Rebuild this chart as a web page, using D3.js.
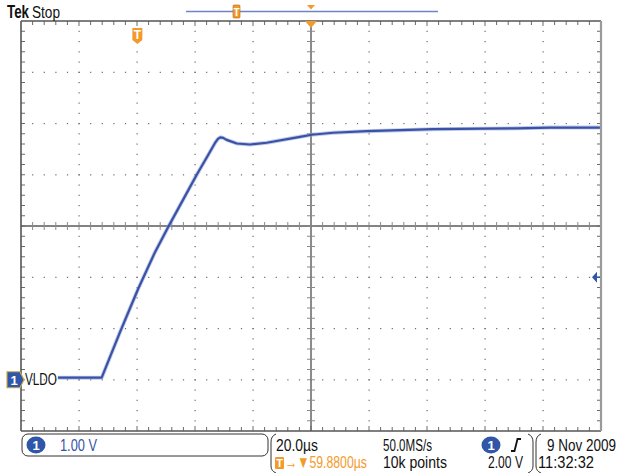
<!DOCTYPE html>
<html>
<head>
<meta charset="utf-8">
<script src="https://cdn.jsdelivr.net/npm/d3@7"></script>
<style>
  html, body { margin: 0; padding: 0; background: #fff; }
  svg { display: block; }
  text { font-family: "Liberation Sans", Arial, sans-serif; }
</style>
</head>
<body>
<svg id="scope" width="619" height="473"></svg>
<script>
// Channel 1 (VLDO) acquisition: time in microseconds relative to the trigger, level in volts
const timeUs = [-27.4, -12.3, -5.98, 0.33, 6.09, 10.91, 15.84, 20.47, 24.47, 26.78, 27.8, 28.6, 29.6, 30.8,
                34.3, 38.8, 44.6, 56.1, 60.1, 67.5, 79.1, 90.6, 101.9, 119.2, 130.8, 142.3, 159.5];
const volts  = [0.04, 0.04, 0.93, 1.78, 2.49, 3.01, 3.52, 4.00, 4.39, 4.62, 4.70, 4.73, 4.72, 4.68,
                4.61, 4.59, 4.625, 4.74, 4.78, 4.82, 4.85, 4.87, 4.89, 4.90, 4.905, 4.92, 4.92];

// Horizontal / vertical settings
const timePerDiv = 20;        // µs/div
const triggerDelay = 59.88;   // µs from trigger to screen centre
const voltsPerDiv = 1.00;     // V/div
const groundDivsBelowCentre = 3;
const triggerLevel = 2.00;    // V
const hDivs = 10, vDivs = 8;

// Readout text
const readoutScale = "1.00 V";
const readoutTime = "20.0µs";
const readoutDelay = "→▼59.8800µs";
const readoutRate = "50.0MS/s";
const readoutPoints = "10k points";
const readoutTrig = "2.00 V";
const readoutDate = "9 Nov 2009";
const readoutClock = "11:32:32";

const svg = d3.select("#scope");
const L = 21, R = 601, T = 21, B = 431;

const tLeft = triggerDelay - timePerDiv * hDivs / 2;
const x = d3.scaleLinear().domain([tLeft, tLeft + timePerDiv * hDivs]).range([L, R]);
const y = d3.scaleLinear()
  .domain([-(vDivs / 2 - groundDivsBelowCentre) * voltsPerDiv, (vDivs / 2 + groundDivsBelowCentre) * voltsPerDiv])
  .range([B, T]);

const orange = "#f39a2c";
const traceBlue = "#3a52a6";
const badgeBlue = "#2f56a8";

// narrow instrument-style text: squeezed horizontally to a fixed run length
function txt(parent, px, py, s, width, opts = {}) {
  const t = parent.append("text").attr("x", 0).attr("y", 0)
    .attr("font-size", opts.size || 17)
    .attr("fill", opts.fill || "#111")
    .text(s);
  if (opts.weight) t.attr("font-weight", opts.weight);
  const natural = t.node().getComputedTextLength();
  t.attr("transform", `translate(${px},${py}) scale(${width / natural},1)`);
  return t;
}

// ---- graticule ----
const g = svg.append("g");
const divW = (R - L) / hDivs, divH = (B - T) / vDivs;
const xCentre = L + divW * hDivs / 2, yCentre = T + divH * vDivs / 2;

// dotted grid lines (dots every 1/5 division)
for (let i = 1; i < hDivs; i++) {
  if (i === hDivs / 2) continue;
  const gx = L + i * divW;
  for (let k = 1; k < vDivs * 5; k++) {
    g.append("rect").attr("x", gx - 0.5).attr("y", T + k * divH / 5 - 0.5)
      .attr("width", 1.2).attr("height", 1.2).attr("fill", "#6a6a6a");
  }
}
for (let j = 1; j < vDivs; j++) {
  if (j === vDivs / 2) continue;
  const gy = T + j * divH;
  for (let k = 1; k < hDivs * 5; k++) {
    g.append("rect").attr("x", L + k * divW / 5 - 0.5).attr("y", gy - 0.5)
      .attr("width", 1.2).attr("height", 1.2).attr("fill", "#6a6a6a");
  }
}

// centre cross with minor ticks, border ticks
g.append("line").attr("x1", L).attr("x2", R).attr("y1", yCentre).attr("y2", yCentre)
  .attr("stroke", "#5a5a5a").attr("stroke-width", 1.4);
g.append("line").attr("x1", xCentre).attr("x2", xCentre).attr("y1", T).attr("y2", B)
  .attr("stroke", "#5a5a5a").attr("stroke-width", 1.4);
for (let k = 1; k < hDivs * 5; k++) {
  const tx = L + k * divW / 5;
  g.append("line").attr("x1", tx).attr("x2", tx).attr("y1", yCentre - 4).attr("y2", yCentre + 4)
    .attr("stroke", "#8a8a8a").attr("stroke-width", 1);
  g.append("line").attr("x1", tx).attr("x2", tx).attr("y1", T).attr("y2", T + (k % 5 === 0 ? 5 : 4))
    .attr("stroke", "#6a6a6a").attr("stroke-width", 1);
  g.append("line").attr("x1", tx).attr("x2", tx).attr("y1", B).attr("y2", B - (k % 5 === 0 ? 5 : 4))
    .attr("stroke", "#6a6a6a").attr("stroke-width", 1);
}
for (let k = 1; k < vDivs * 5; k++) {
  const ty = T + k * divH / 5;
  g.append("line").attr("x1", xCentre - 4).attr("x2", xCentre + 4).attr("y1", ty).attr("y2", ty)
    .attr("stroke", "#8a8a8a").attr("stroke-width", 1);
  g.append("line").attr("x1", L).attr("x2", L + 4).attr("y1", ty).attr("y2", ty)
    .attr("stroke", "#6a6a6a").attr("stroke-width", 1);
  g.append("line").attr("x1", R).attr("x2", R - 4).attr("y1", ty).attr("y2", ty)
    .attr("stroke", "#6a6a6a").attr("stroke-width", 1);
}

// border
g.append("line").attr("x1", L).attr("x2", R).attr("y1", T).attr("y2", T).attr("stroke", "#555").attr("stroke-width", 1.6);
g.append("line").attr("x1", L).attr("x2", R).attr("y1", B).attr("y2", B).attr("stroke", "#555").attr("stroke-width", 1.6);
g.append("line").attr("x1", L).attr("x2", L).attr("y1", T).attr("y2", B).attr("stroke", "#555").attr("stroke-width", 1.6);
g.append("line").attr("x1", R).attr("x2", R).attr("y1", T).attr("y2", B).attr("stroke", "#9a9a9a").attr("stroke-width", 2.2);

// ---- waveform ----
const pts = timeUs.map((t, i) => [t, volts[i]]);
const line = d3.line().x(d => x(d[0])).y(d => y(d[1])).curve(d3.curveLinear);
svg.append("path").attr("d", line(pts)).attr("fill", "none")
  .attr("stroke", "#8d9fd6").attr("stroke-width", 4).attr("stroke-linejoin", "round").attr("opacity", 0.55);
svg.append("path").attr("d", line(pts)).attr("fill", "none")
  .attr("stroke", traceBlue).attr("stroke-width", 2.2).attr("stroke-linejoin", "round");

// ---- channel marker and label ----
const gy0 = y(0);
svg.append("path")
  .attr("d", `M7,${gy0 - 8} L20,${gy0 - 8} L24,${gy0} L20,${gy0 + 8} L7,${gy0 + 8} Z`)
  .attr("fill", badgeBlue).attr("stroke", "#c9a94a").attr("stroke-width", 1.2);
svg.append("text").attr("x", 14).attr("y", gy0 + 5).attr("text-anchor", "middle")
  .attr("fill", "#fff").attr("font-size", 13).attr("font-weight", "bold").text("1");
txt(svg, 25, gy0 + 5.5, "VLDO", 32, { size: 17 });

// trigger level arrow on the right edge
const ty = y(triggerLevel);
svg.append("path").attr("d", `M${R - 9},${ty} L${R - 4},${ty - 5.5} L${R - 4},${ty + 5.5} Z`).attr("fill", badgeBlue);
svg.append("line").attr("x1", R - 5).attr("x2", R - 1).attr("y1", ty).attr("y2", ty)
  .attr("stroke", badgeBlue).attr("stroke-width", 1.5);

// trigger position marker
const tx0 = x(0);
svg.append("path")
  .attr("d", `M${tx0 - 5},28 L${tx0 + 5},28 L${tx0 + 5},40 L${tx0},44 L${tx0 - 5},40 Z`)
  .attr("fill", orange);
svg.append("text").attr("x", tx0).attr("y", 39).attr("text-anchor", "middle").attr("fill", "#fff")
  .attr("font-size", 12).attr("font-weight", "bold").text("T");

// expansion point marker at top centre
svg.append("path").attr("d", `M${xCentre - 6},${T} L${xCentre + 6},${T} L${xCentre},${T + 7} Z`).attr("fill", orange);

// ---- top header ----
txt(svg, 7, 18, "Tek", 22, { size: 18, weight: "bold" });
txt(svg, 32, 18, "Stop", 28, { size: 17 });

// record view bar
svg.append("line").attr("x1", 186).attr("x2", 438).attr("y1", 11.5).attr("y2", 11.5)
  .attr("stroke", "#6f84c8").attr("stroke-width", 1.6);
svg.append("rect").attr("x", 233).attr("y", 5).attr("width", 7).attr("height", 13).attr("rx", 1)
  .attr("fill", orange).attr("stroke", "#b06a10").attr("stroke-width", 0.6);
svg.append("text").attr("x", 236.5).attr("y", 16).attr("text-anchor", "middle").attr("fill", "#fff")
  .attr("font-size", 10).attr("font-weight", "bold").text("T");
svg.append("path").attr("d", `M${xCentre - 4},5 L${xCentre + 4},5 L${xCentre},9.5 Z`).attr("fill", orange);

// ---- readout ----
const ro = svg.append("g");
ro.append("rect").attr("x", 22).attr("y", 434).attr("width", 246).attr("height", 22).attr("rx", 6)
  .attr("fill", "none").attr("stroke", "#333").attr("stroke-width", 1);
ro.append("ellipse").attr("cx", 36).attr("cy", 445).attr("rx", 9.5).attr("ry", 8.5).attr("fill", badgeBlue);
ro.append("text").attr("x", 36).attr("y", 450).attr("text-anchor", "middle").attr("fill", "#fff")
  .attr("font-weight", "bold").attr("font-size", 13).text("1");
txt(ro, 60, 451, readoutScale, 37, { fill: "#3553a3" });

// bracket pieces
function bracket(xp, dir) {
  ro.append("path")
    .attr("d", `M${xp + 5 * dir},434 Q${xp},436 ${xp},442 L${xp},466 Q${xp},471 ${xp + 5 * dir},473`)
    .attr("fill", "none").attr("stroke", "#333").attr("stroke-width", 1);
}
bracket(271, 1);
bracket(533, -1);
bracket(536, 1);

txt(ro, 276, 451, readoutTime, 42);
ro.append("rect").attr("x", 275).attr("y", 457).attr("width", 9).attr("height", 12).attr("rx", 1).attr("fill", orange);
ro.append("text").attr("x", 279.5).attr("y", 467).attr("text-anchor", "middle").attr("fill", "#fff")
  .attr("font-size", 11).attr("font-weight", "bold").text("T");
txt(ro, 285, 468, readoutDelay, 82, { fill: orange });

txt(ro, 383, 451, readoutRate, 49);
txt(ro, 383, 468, readoutPoints, 64);

ro.append("ellipse").attr("cx", 491).attr("cy", 445).attr("rx", 9.5).attr("ry", 8.5).attr("fill", badgeBlue);
ro.append("text").attr("x", 491).attr("y", 450).attr("text-anchor", "middle").attr("fill", "#fff")
  .attr("font-weight", "bold").attr("font-size", 13).text("1");
ro.append("path").attr("d", "M511,451 L514.5,451 L517.5,439 L521,439")
  .attr("fill", "none").attr("stroke", "#111").attr("stroke-width", 1.8);
txt(ro, 488, 468, readoutTrig, 35);

txt(ro, 547, 451, readoutDate, 69);
txt(ro, 538, 468, readoutClock, 56);
</script>
</body>
</html>
